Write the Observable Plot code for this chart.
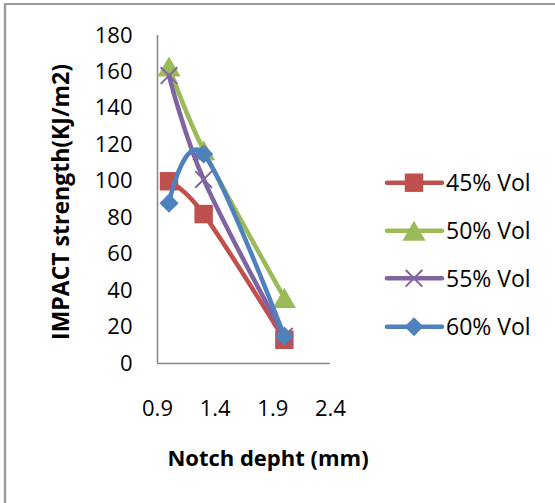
<!DOCTYPE html>
<html><head><meta charset="utf-8">
<script src="https://cdn.jsdelivr.net/npm/d3@7"></script>
<script src="https://cdn.jsdelivr.net/npm/@observablehq/plot@0.6"></script>
<style>
html,body{margin:0;padding:0;background:#fff;}
#chart{width:555px;height:503px;overflow:hidden;}
</style></head><body><div id="chart"></div>
<script>
const notchDepth = [1.0, 1.3, 2.0];
const seriesNames = ["45% Vol", "50% Vol", "55% Vol", "60% Vol"];
const vol45 = [100, 82, 13];
const vol50 = [163, 117, 36];
const vol55 = [158, 101, 15];
const vol60 = [88, 115, 15];
const yTicks = [0, 20, 40, 60, 80, 100, 120, 140, 160, 180];
const xTicks = [0.9, 1.4, 1.9, 2.4];
const xTitle = "Notch depht (mm)";
const yTitle = "IMPACT strength(KJ/m2)";

const colors = ["#C0504D", "#9BBB59", "#8064A2", "#4F81BD"];
const symbols = ["square", "triangle", "times", "diamond2"];
const symbolR = [10.4, 8.6, 7.6, 8.6];
const d3Symbols = [d3.symbolSquare, d3.symbolTriangle, d3.symbolTimes, d3.symbolDiamond2];
// d3's triangle is centred on its centroid; shift it so its bounding box is centred
const triHalf = Math.sqrt(Math.PI * symbolR[1] * symbolR[1] / (Math.sqrt(3) * 3));
const symbolDy = [0, triHalf / 2, 0, 0];

const seriesValues = [vol45, vol50, vol55, vol60];
const rows = seriesNames.flatMap((s, i) => notchDepth.map((x, j) => ({series: s, x, y: seriesValues[i][j]})));

const FONT = "'Open Sans', 'DejaVu Sans', sans-serif";
const axisColor = "#8a8a8a";

const marks = [
  Plot.ruleY([0], {stroke: axisColor, strokeWidth: 1.6}),
  Plot.ruleX([0.9], {stroke: axisColor, strokeWidth: 1.6})
];
seriesNames.forEach((s, i) => {
  const d = rows.filter(r => r.series === s);
  marks.push(Plot.line(d, {x: "x", y: "y", stroke: colors[i], strokeWidth: 4.5, curve: "cardinal",
    strokeLinejoin: "round", strokeLinecap: "round"}));
  if (symbols[i] === "times") {
    marks.push(Plot.dot(d, {x: "x", y: "y", symbol: "times", r: symbolR[i], stroke: colors[i], strokeWidth: 2, fill: "none"}));
  } else {
    marks.push(Plot.dot(d, {x: "x", y: "y", symbol: symbols[i], r: symbolR[i], dy: symbolDy[i], fill: colors[i], stroke: "none"}));
  }
});

const chart = Plot.plot({
  width: 555,
  height: 503,
  marginLeft: 157,
  marginRight: 225,
  marginTop: 35,
  marginBottom: 140,
  style: {fontFamily: FONT, fontSize: "22px", color: "#000", background: "#fff", overflow: "visible"},
  x: {domain: [0.9, 2.4], ticks: xTicks, tickSize: 0, tickPadding: 37, tickFormat: d3.format(".1f"), label: null},
  y: {domain: [0, 180], ticks: yTicks, tickSize: 0, tickPadding: 25, label: null},
  marks
});
document.getElementById("chart").appendChild(chart);

const svg = d3.select(chart);
// frame
svg.append("line").attr("x1", 5).attr("x2", 5).attr("y1", 4).attr("y2", 503)
  .attr("stroke", "#9a9a9a").attr("stroke-width", 2.4);
svg.append("line").attr("x1", 4).attr("x2", 555).attr("y1", 4).attr("y2", 4)
  .attr("stroke", "#9a9a9a").attr("stroke-width", 2);

// axis titles
svg.append("text").text(xTitle)
  .attr("x", 268).attr("y", 466).attr("text-anchor", "middle")
  .attr("font-family", FONT).attr("font-weight", "bold").attr("font-size", 22).attr("fill", "#000");
svg.append("text").text(yTitle)
  .attr("transform", "translate(69,202) rotate(-90)").attr("text-anchor", "middle")
  .attr("font-family", FONT).attr("font-weight", "bold").attr("font-size", 23).attr("fill", "#000");

// legend
const legendY = [182.7, 230.7, 278.3, 326.7];
seriesNames.forEach((s, i) => {
  const g = svg.append("g").attr("transform", `translate(0,${legendY[i]})`);
  g.append("line").attr("x1", 387).attr("x2", 442).attr("y1", 0).attr("y2", 0)
    .attr("stroke", colors[i]).attr("stroke-width", 4.5).attr("stroke-linecap", "round");
  const sym = d3.symbol(d3Symbols[i], Math.PI * symbolR[i] * symbolR[i]);
  const p = g.append("path").attr("d", sym()).attr("transform", `translate(414,${symbolDy[i]})`);
  if (symbols[i] === "times") p.attr("fill", "none").attr("stroke", colors[i]).attr("stroke-width", 2);
  else p.attr("fill", colors[i]);
  g.append("text").text(s).attr("x", 446).attr("y", 0.36 * 23).attr("text-anchor", "start")
    .attr("font-family", FONT).attr("font-size", 23).attr("fill", "#000");
});
</script>
</body></html>
